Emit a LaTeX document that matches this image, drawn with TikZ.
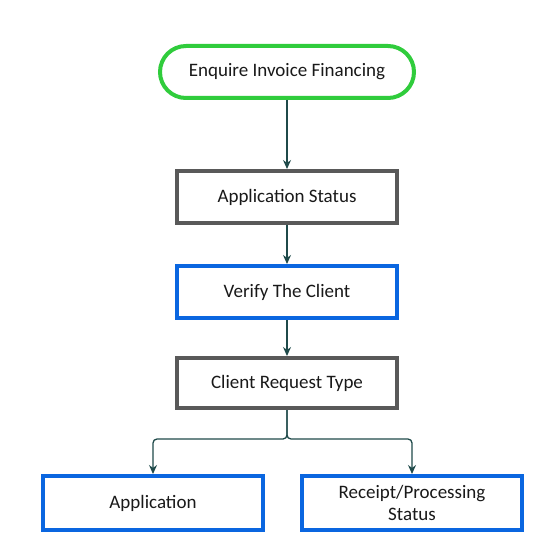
\documentclass[tikz,border=0pt]{standalone}
\usepackage{fontspec}
\setmainfont{Carlito}
\usetikzlibrary{arrows.meta,positioning}
\definecolor{startgreen}{HTML}{30CC3C}
\definecolor{stepblue}{HTML}{0A66E0}
\definecolor{stepgray}{HTML}{595959}
\definecolor{flowline}{HTML}{1F4A4A}
\tikzset{
  box/.style={draw, line width=4pt, fill=white, minimum width=220pt, minimum height=52pt,
              align=center, font=\fontsize{19}{22}\selectfont, text=black!90},
  graybox/.style={box, draw=stepgray},
  bluebox/.style={box, draw=stepblue},
  startbox/.style={box, draw=startgreen, rounded corners=26pt, minimum width=254pt},
  flow/.style={draw=flowline, line width=1.3pt, -{Stealth[length=9pt,width=8pt]}, rounded corners=4pt}
}
\begin{document}
\begin{tikzpicture}[x=1pt,y=-1pt]
\useasboundingbox (0,0) rectangle (551,556);
\node[startbox] (enquire) at (287,72) {Enquire Invoice Financing};
\node[graybox] (status) at (287,197) {Application Status};
\node[bluebox] (verify) at (287,292) {Verify The Client};
\node[graybox, minimum height=50pt] (reqtype) at (287,383) {Client Request Type};
\node[bluebox, minimum height=54pt] (apply) at (153,503) {Application};
\node[bluebox, minimum height=54pt] (receipt) at (412,503) {Receipt/Processing\\Status};
\coordinate (split) at (287,439);
% main line
\draw[flow] (enquire) -- (status);
\draw[flow] (status) -- (verify);
\draw[flow] (verify) -- (reqtype);
% branches
\draw[flow] (reqtype.south) -- (split) -| (apply.north);
\draw[flow] (reqtype.south) -- (split) -| (receipt.north);
\end{tikzpicture}
\end{document}
